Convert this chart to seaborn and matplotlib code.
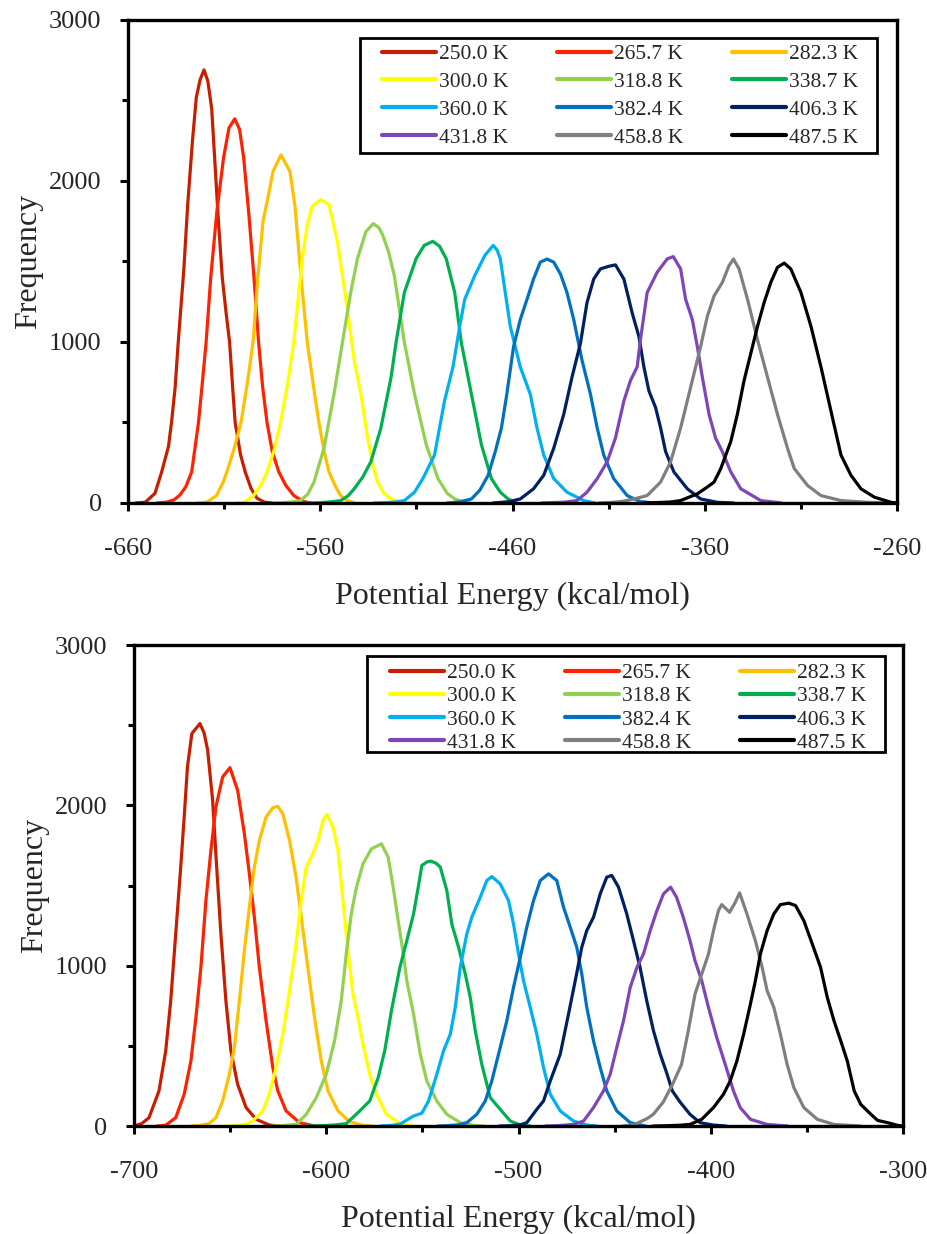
import numpy as np
import pandas as pd
import seaborn as sns
import matplotlib.pyplot as plt
from matplotlib.lines import Line2D
from matplotlib.patches import Rectangle

temps = ["250.0 K", "265.7 K", "282.3 K", "300.0 K", "318.8 K", "338.7 K",
         "360.0 K", "382.4 K", "406.3 K", "431.8 K", "458.8 K", "487.5 K"]
colors = ["#C81E00", "#FF2200", "#FFC000", "#FFFF00", "#92D050", "#00B050",
          "#00B0F0", "#0070C0", "#002060", "#7E46B6", "#7F7F7F", "#000000"]

# ---- top panel ----
t250_x = [-656, -651, -646, -642.6, -639, -637.4, -635.5, -633.9, -631, -629, -626.5, -624.5, -622.5, -620.5, -618.5, -616.5, -614.5, -613, -611, -609, -607.2, -605.5, -604.3, -601.5, -599, -596, -593, -589, -585]
t250_y = [0, 5, 60, 190, 350, 500, 720, 1000, 1450, 1850, 2250, 2520, 2630, 2690, 2620, 2450, 2050, 1750, 1400, 1180, 1000, 700, 500, 300, 190, 90, 30, 5, 0]
t265_x = [-645, -640, -636, -633, -630, -626.9, -623.4, -621.5, -619.4, -617, -613.8, -610.3, -607.5, -604.5, -602, -599.9, -597.3, -594.5, -592.1, -590, -587.7, -585, -581.6, -578, -573.8, -569, -565]
t265_y = [0, 5, 20, 50, 100, 193, 498, 730, 998, 1400, 1811, 2147, 2330, 2386, 2320, 2147, 1811, 1400, 998, 720, 498, 320, 193, 110, 46, 10, 0]
t282_x = [-624, -619, -614, -610.5, -608.6, -605, -601.3, -598, -595, -592.5, -589.8, -587.2, -584.6, -580.5, -575.8, -573.2, -570, -566.8, -563.5, -560.7, -558, -555.5, -552, -549.4, -546, -542]
t282_y = [0, 5, 46, 130, 193, 330, 498, 740, 998, 1400, 1750, 1900, 2059, 2162, 2059, 1844, 1400, 998, 720, 498, 320, 193, 100, 46, 15, 0]
t300_x = [-604, -599.9, -594.7, -591, -587.7, -584, -580.7, -577, -573.8, -569.4, -566.8, -564.2, -559.8, -555.5, -551.1, -545.9, -542.4, -538.9, -535.4, -532.5, -530.2, -527, -523.2, -518, -512]
t300_y = [0, 2, 46, 110, 193, 330, 498, 740, 998, 1517, 1727, 1842, 1884, 1853, 1622, 1202, 887, 676, 403, 230, 130, 60, 25, 5, 0]
t318_x = [-584, -579, -574, -570.3, -566.5, -563.3, -558.1, -552.9, -548.5, -544.2, -540.7, -536.3, -532.5, -529.5, -527.6, -524.5, -521.5, -516.3, -511, -504.9, -498.8, -494, -490.1, -486, -482]
t318_y = [0, 3, 8, 15, 55, 130, 340, 676, 998, 1307, 1517, 1685, 1735, 1710, 1665, 1560, 1412, 998, 676, 361, 151, 60, 25, 8, 0]
t338_x = [-565, -559.8, -554, -549.4, -545.5, -542.4, -538, -533.7, -528.5, -523.2, -520.6, -516.3, -510.2, -506, -501.5, -498, -494.5, -490.1, -486.7, -481.4, -476.2, -471, -466.4, -462.3, -458]
t338_y = [0, 2, 8, 15, 45, 88, 160, 256, 466, 781, 998, 1307, 1517, 1600, 1625, 1595, 1517, 1307, 998, 676, 361, 151, 67, 25, 0]
t360_x = [-532, -526.7, -521, -516.3, -511, -506.7, -500.6, -495.4, -491, -487.5, -484.9, -479.7, -474.4, -470.1, -468, -466.4, -461.2, -456, -450.8, -447.3, -443.8, -438.6, -431.7, -423, -417]
t360_y = [0, 2, 6, 15, 67, 151, 298, 634, 845, 1097, 1265, 1412, 1538, 1600, 1570, 1517, 1097, 845, 676, 466, 298, 151, 67, 15, 0]
t382_x = [-494, -488, -481.4, -477, -472.7, -469, -465.8, -463, -459.5, -456, -452.5, -449.1, -445.6, -442.1, -438.6, -435, -431.7, -428.2, -423.9, -419.5, -416, -412.6, -407.4, -400.4, -393.4, -386]
t382_y = [0, 6, 25, 80, 172, 320, 466, 676, 970, 1139, 1265, 1391, 1496, 1515, 1496, 1420, 1307, 1139, 887, 676, 466, 298, 151, 46, 8, 0]
t406_x = [-470, -462, -456, -449.1, -443.8, -438.6, -433.4, -429.1, -424.7, -421.3, -417.8, -414.3, -410, -406.5, -402.1, -397.8, -394.3, -391.7, -389.1, -385.6, -383, -380.4, -376.1, -369.1, -362.2, -353.5, -345]
t406_y = [0, 8, 25, 88, 172, 340, 550, 781, 992, 1244, 1391, 1454, 1470, 1479, 1391, 1181, 1034, 845, 697, 592, 466, 319, 193, 88, 25, 4, 0]
t431_x = [-445, -440.4, -433, -426.5, -421.3, -416, -410.8, -406.5, -402.1, -398.7, -395.2, -393.5, -390, -384.8, -379.5, -376.4, -372.6, -370, -366.5, -363.9, -361.3, -357.8, -354.4, -350.9, -346.5, -341.3, -330.9, -320]
t431_y = [0, 2, 5, 15, 67, 151, 256, 403, 634, 760, 845, 1013, 1307, 1433, 1517, 1530, 1454, 1265, 1139, 971, 781, 550, 403, 319, 193, 88, 15, 0]
t458_x = [-415, -409, -403, -396.9, -390, -383, -377.8, -372.6, -367.4, -362.2, -358.7, -355.2, -350.9, -347.4, -345.1, -342.2, -337.8, -332.6, -327.4, -322.2, -317, -313.5, -306.6, -299.6, -289.2, -275.3, -262]
t458_y = [0, 3, 10, 25, 46, 130, 256, 466, 718, 971, 1160, 1286, 1370, 1475, 1515, 1454, 1265, 1013, 781, 550, 340, 214, 109, 46, 15, 4, 0]
t487_x = [-392, -386, -378, -372.6, -363.9, -358.7, -355.2, -351.7, -346.5, -343.1, -339.6, -336.1, -332.6, -329.2, -325.7, -322.2, -318.7, -315.3, -310, -304.8, -299.6, -294.4, -289.2, -284, -278.8, -271.8, -263.1, -260]
t487_y = [0, 2, 6, 15, 57, 99, 130, 214, 382, 550, 760, 929, 1097, 1244, 1370, 1464, 1490, 1454, 1307, 1097, 845, 571, 298, 172, 88, 36, 4, 0]

# ---- bottom panel ----
b250_x = [-700, -696, -692.2, -687, -683.5, -680.9, -678.3, -675.7, -673.9, -672.2, -669.9, -665.7, -663.5, -661.7, -659.1, -657, -654.8, -652.2, -649.6, -646.1, -641.7, -636.5, -629.6, -624]
b250_y = [0, 15, 52, 219, 469, 781, 1198, 1615, 1927, 2240, 2448, 2510, 2450, 2344, 2031, 1615, 1198, 781, 469, 260, 115, 42, 6, 0]
b265_x = [-688, -683.5, -678.3, -673.9, -670.4, -667.8, -665.2, -662.6, -660, -657.4, -653.9, -650.1, -646.1, -642.6, -640, -637.4, -634.8, -631.3, -627.8, -625.2, -620.9, -613.9, -606]
b265_y = [0, 5, 52, 198, 406, 677, 990, 1406, 1719, 1990, 2177, 2235, 2094, 1823, 1573, 1302, 990, 656, 365, 219, 94, 21, 0]
b282_x = [-670, -666.1, -661, -657.4, -653.9, -650.4, -647.8, -645.2, -642.6, -640, -637.4, -634.8, -631.3, -627.8, -625.2, -622.6, -619.1, -615.7, -613, -609.6, -606.1, -602.6, -599.1, -593.9, -587.8, -580.9, -576]
b282_y = [0, 3, 15, 52, 156, 323, 490, 781, 1094, 1365, 1615, 1781, 1927, 1985, 1994, 1948, 1781, 1552, 1302, 990, 677, 406, 219, 94, 27, 4, 0]
b300_x = [-652, -647, -642, -638.3, -633, -629.6, -626.1, -622.6, -619.1, -615.7, -613, -610.4, -607, -604.3, -601.7, -599.7, -596.5, -593.9, -591.3, -588.7, -586.1, -583.5, -580.9, -577.4, -573.9, -568.7, -561.7, -555]
b300_y = [0, 2, 10, 31, 94, 198, 365, 573, 844, 1135, 1406, 1615, 1698, 1781, 1906, 1944, 1865, 1719, 1406, 1094, 823, 677, 510, 323, 198, 73, 15, 0]
b318_x = [-628, -622.6, -615.7, -610.4, -605.2, -600, -595.7, -592.2, -589.6, -587, -584.3, -580.9, -576.5, -571.3, -567.8, -565.2, -562.6, -560, -558.1, -554.6, -551.1, -547.7, -542.5, -537.3, -530.3, -523.4, -518]
b318_y = [0, 3, 10, 73, 177, 323, 531, 781, 1073, 1323, 1490, 1635, 1729, 1760, 1677, 1490, 1281, 1080, 906, 698, 448, 281, 156, 73, 21, 4, 0]
b338_x = [-610, -603, -596, -589.6, -582.6, -577.4, -573, -569.6, -566.1, -561.7, -558.1, -554.6, -552, -550.3, -547.5, -545.6, -543, -540.7, -537.3, -534.7, -531.2, -527.7, -525.1, -522.5, -519.1, -514.7, -509.5, -504.3, -499.1, -494]
b338_y = [0, 2, 6, 15, 94, 156, 302, 469, 719, 990, 1156, 1323, 1500, 1625, 1648, 1652, 1640, 1615, 1469, 1260, 1115, 948, 802, 594, 385, 177, 104, 31, 6, 0]
b360_x = [-572, -566, -561.6, -554.7, -550.3, -546.8, -542.5, -539, -535.5, -532.9, -530.3, -526.9, -524.3, -519.9, -516.5, -513.9, -509.5, -505.2, -502.6, -500, -497.4, -493.9, -490.5, -487, -483.5, -478.3, -471.4, -464.5, -459]
b360_y = [0, 4, 12, 62, 80, 156, 323, 469, 573, 740, 990, 1198, 1302, 1427, 1531, 1556, 1510, 1406, 1260, 1073, 906, 740, 573, 365, 198, 94, 31, 6, 0]
b382_x = [-542, -537.3, -531, -526.9, -521.7, -517.3, -513.9, -510.4, -506.1, -502.6, -499.1, -495.7, -492.2, -488.7, -484.4, -480.1, -476.6, -473.1, -469.7, -467.1, -464.5, -461, -457.5, -454.1, -448.9, -441.9, -434]
b382_y = [0, 2, 8, 21, 73, 156, 281, 448, 656, 865, 1052, 1240, 1406, 1531, 1573, 1531, 1365, 1240, 1115, 948, 740, 531, 365, 219, 94, 21, 0]
b406_x = [-510, -504, -499, -495.7, -490.5, -487, -483.5, -478.3, -474, -470.5, -467.1, -464.5, -461, -457.5, -454.1, -451.5, -448, -443.7, -440.2, -436.8, -433.3, -429.8, -426.3, -422.9, -420, -416, -410.8, -405.6, -398.6, -392]
b406_y = [0, 2, 8, 21, 104, 156, 281, 448, 698, 906, 1115, 1219, 1302, 1448, 1552, 1563, 1490, 1323, 1156, 990, 781, 594, 448, 330, 219, 150, 73, 21, 6, 0]
b431_x = [-486, -480, -471.4, -466.2, -461, -455.8, -452.3, -448.9, -445.4, -441.9, -438.4, -435, -431.5, -428, -424.6, -420.9, -417.8, -414.3, -410.8, -408.2, -404.7, -401.2, -396.9, -392.5, -388.2, -384.7, -379.4, -370.7, -360]
b431_y = [0, 2, 10, 31, 115, 219, 323, 490, 656, 865, 990, 1073, 1219, 1344, 1448, 1490, 1427, 1302, 1156, 1031, 906, 740, 552, 385, 219, 115, 42, 10, 0]
b458_x = [-446, -440, -433.3, -429.9, -424.7, -419.5, -415.2, -411.7, -408.2, -404.7, -401.2, -398.6, -396, -394.3, -390.2, -387.5, -385, -381.2, -376.8, -373.3, -370.7, -367.2, -363.8, -360.3, -356.8, -351.6, -344.6, -335.9, -322]
b458_y = [0, 8, 45, 73, 150, 270, 385, 594, 823, 948, 1073, 1219, 1344, 1381, 1333, 1390, 1454, 1323, 1156, 990, 844, 740, 573, 385, 240, 115, 42, 10, 0]
b487_x = [-430, -423, -416, -410.8, -404.7, -398.6, -393.4, -389.9, -386.4, -382.9, -379.4, -376.8, -374.2, -370.7, -367.2, -363.8, -359.4, -355.9, -351.6, -347.2, -342.9, -339.4, -335.9, -332.4, -329, -325.4, -322, -316.7, -313.2, -308, -302.8, -300]
b487_y = [0, 2, 5, 10, 42, 115, 198, 281, 406, 573, 760, 906, 1073, 1219, 1323, 1381, 1390, 1375, 1281, 1135, 990, 802, 656, 531, 406, 219, 135, 73, 35, 21, 4, 0]

top_x = [t250_x, t265_x, t282_x, t300_x, t318_x, t338_x, t360_x, t382_x, t406_x, t431_x, t458_x, t487_x]
top_y = [t250_y, t265_y, t282_y, t300_y, t318_y, t338_y, t360_y, t382_y, t406_y, t431_y, t458_y, t487_y]
bot_x = [b250_x, b265_x, b282_x, b300_x, b318_x, b338_x, b360_x, b382_x, b406_x, b431_x, b458_x, b487_x]
bot_y = [b250_y, b265_y, b282_y, b300_y, b318_y, b338_y, b360_y, b382_y, b406_y, b431_y, b458_y, b487_y]


def make_df(xs, ys):
    parts = []
    for t, x, y in zip(temps, xs, ys):
        parts.append(pd.DataFrame({"energy": x, "freq": y, "temp": t}))
    return pd.concat(parts, ignore_index=True)


sns.set_style("ticks")
plt.rcParams['font.family'] = ['Liberation Serif', 'DejaVu Serif']
plt.rcParams['axes.unicode_minus'] = False

W, H = 928, 1234
fig = plt.figure(figsize=(W / 100, H / 100), dpi=100)
ax1 = fig.add_axes([0.138, 0.5924, 0.8287, 0.3914])
ax2 = fig.add_axes([0.1444, 0.0875, 0.8287, 0.3898])

order = [0, 3, 6, 9, 1, 4, 7, 10, 2, 5, 8, 11]  # legend filled row by row

# axes, data, x range, legend row spacing, legend text anchor (px), legend box (px)
panels = [
    (ax1, make_df(top_x, top_y), (-660, -260), 0.36, (382, 44), (360, 38, 877, 153)),
    (ax2, make_df(bot_x, bot_y), (-700, -300), 0.15, (390, 663), (367, 656, 885, 752)),
]

for ax, df, xlim, lspace, anchor, box in panels:
    sns.lineplot(data=df, x="energy", y="freq", hue="temp", hue_order=temps,
                 palette=colors, estimator=None, sort=False, lw=2.3,
                 legend=False, ax=ax)
    for ln in ax.get_lines():
        ln.set_solid_joinstyle("round")
        ln.set_clip_on(False)
    ax.set_xlim(*xlim)
    ax.set_ylim(0, 3000)
    ax.set_xticks(np.arange(xlim[0], xlim[1] + 1, 100))
    ax.set_xticks(np.arange(xlim[0] + 50, xlim[1], 100), minor=True)
    ax.set_yticks([0, 1000, 2000, 3000])
    ax.set_yticks([500, 1500, 2500], minor=True)
    for sp in ax.spines.values():
        sp.set_visible(True)
        sp.set_linewidth(2.4)
        sp.set_color("black")
    ax.tick_params(axis="both", which="major", direction="out", length=6,
                   width=2.2, labelsize=19, color="black")
    ax.tick_params(axis="both", which="minor", direction="out", length=4.5,
                   width=2.2, color="black")
    ax.tick_params(axis="x", which="major", pad=19)
    ax.tick_params(axis="y", which="major", pad=13)
    ax.set_xlabel("Potential Energy (kcal/mol)", fontsize=23)
    ax.set_ylabel("Frequency", fontsize=23)
    ax.xaxis.set_label_coords(0.5, -0.163)
    ax.yaxis.set_label_coords(-0.111, 0.5)

    handles = [Line2D([0], [0], color=colors[i], lw=3) for i in range(12)]
    handles = [handles[i] for i in order]
    labels = [temps[i] for i in order]
    ax.legend(handles, labels, ncol=3, loc="upper left",
              bbox_to_anchor=(anchor[0] / W, 1 - anchor[1] / H),
              bbox_transform=fig.transFigure, fontsize=15.5, frameon=False,
              handlelength=2.5, handletextpad=0.15, columnspacing=2.25,
              labelspacing=lspace, borderaxespad=0, borderpad=0)
    x0, y0, x1, y1 = box
    fig.add_artist(Rectangle((x0 / W, 1 - y1 / H), (x1 - x0) / W, (y1 - y0) / H,
                             transform=fig.transFigure, fill=False,
                             lw=2, ec="black", zorder=5))

fig.savefig("out.png", dpi=100)
